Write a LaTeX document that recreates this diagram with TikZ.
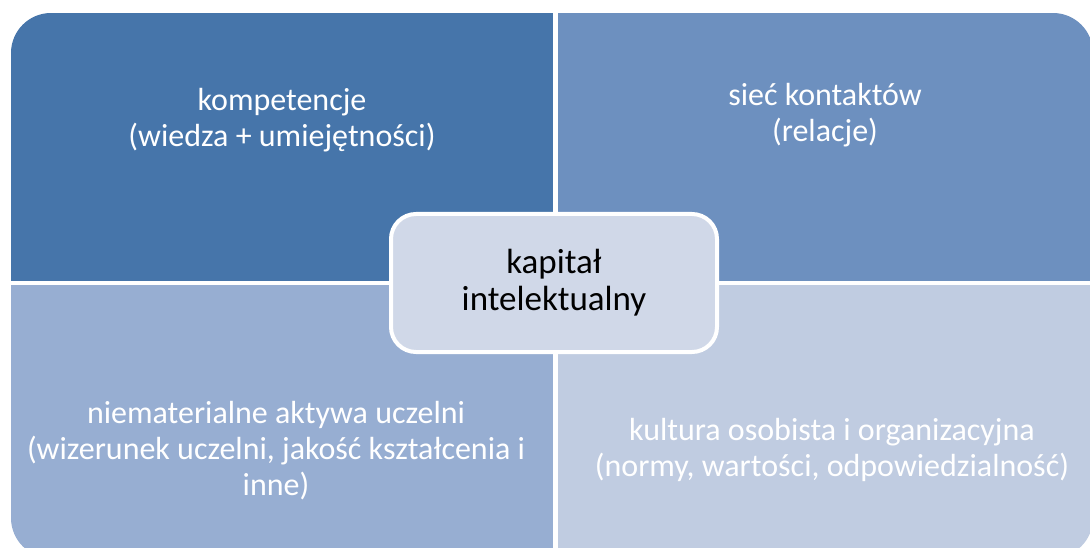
\documentclass[tikz,border=0pt]{standalone}
\usepackage{fontspec}
\setmainfont{Carlito}
\usepackage{xcolor}
\usetikzlibrary{positioning}

\definecolor{quadA}{HTML}{4675AA}
\definecolor{quadB}{HTML}{6D90BF}
\definecolor{quadC}{HTML}{97AED2}
\definecolor{quadD}{HTML}{C0CCE1}
\definecolor{hubfill}{HTML}{D0D8E8}

\begin{document}
\begin{tikzpicture}[
        x=1pt, y=-1pt,
        every node/.style={align=center, inner sep=0pt},
        quadtext/.style={text=white, font=\fontsize{32}{36}\selectfont},
        hub/.style={draw=white, line width=4pt, fill=hubfill, rounded corners=25pt,
            minimum width=326pt, minimum height=138pt, font=\fontsize{35}{37}\selectfont}
    ]
    \useasboundingbox (0,0) rectangle (1090,548);

    % Quadrants
    \begin{scope}
        \clip[rounded corners=40pt] (11,13) rectangle (1093,558);
        \fill[quadA] (11,13) rectangle (553,281);
        \fill[quadB] (558,13) rectangle (1093,281);
        \fill[quadC] (11,285) rectangle (553,558);
        \fill[quadD] (558,285) rectangle (1093,558);
    \end{scope}

    % Texts
    \node[quadtext] (kompetencje) at (282,120) {kompetencje\\(wiedza + umiejętności)};
    \node[quadtext] (siec) at (825,115) {sieć kontaktów\\(relacje)};
    \node[quadtext] (aktywa) at (276,451) {niematerialne aktywa uczelni\\(wizerunek uczelni, jakość kształcenia i\\inne)};
    \node[quadtext] (kultura) at (832,450) {kultura osobista i organizacyjna\\(normy, wartości, odpowiedzialność)};

    % Centre
    \node[hub] (kapital) at (554,283) {kapitał\\intelektualny};
\end{tikzpicture}
\end{document}
